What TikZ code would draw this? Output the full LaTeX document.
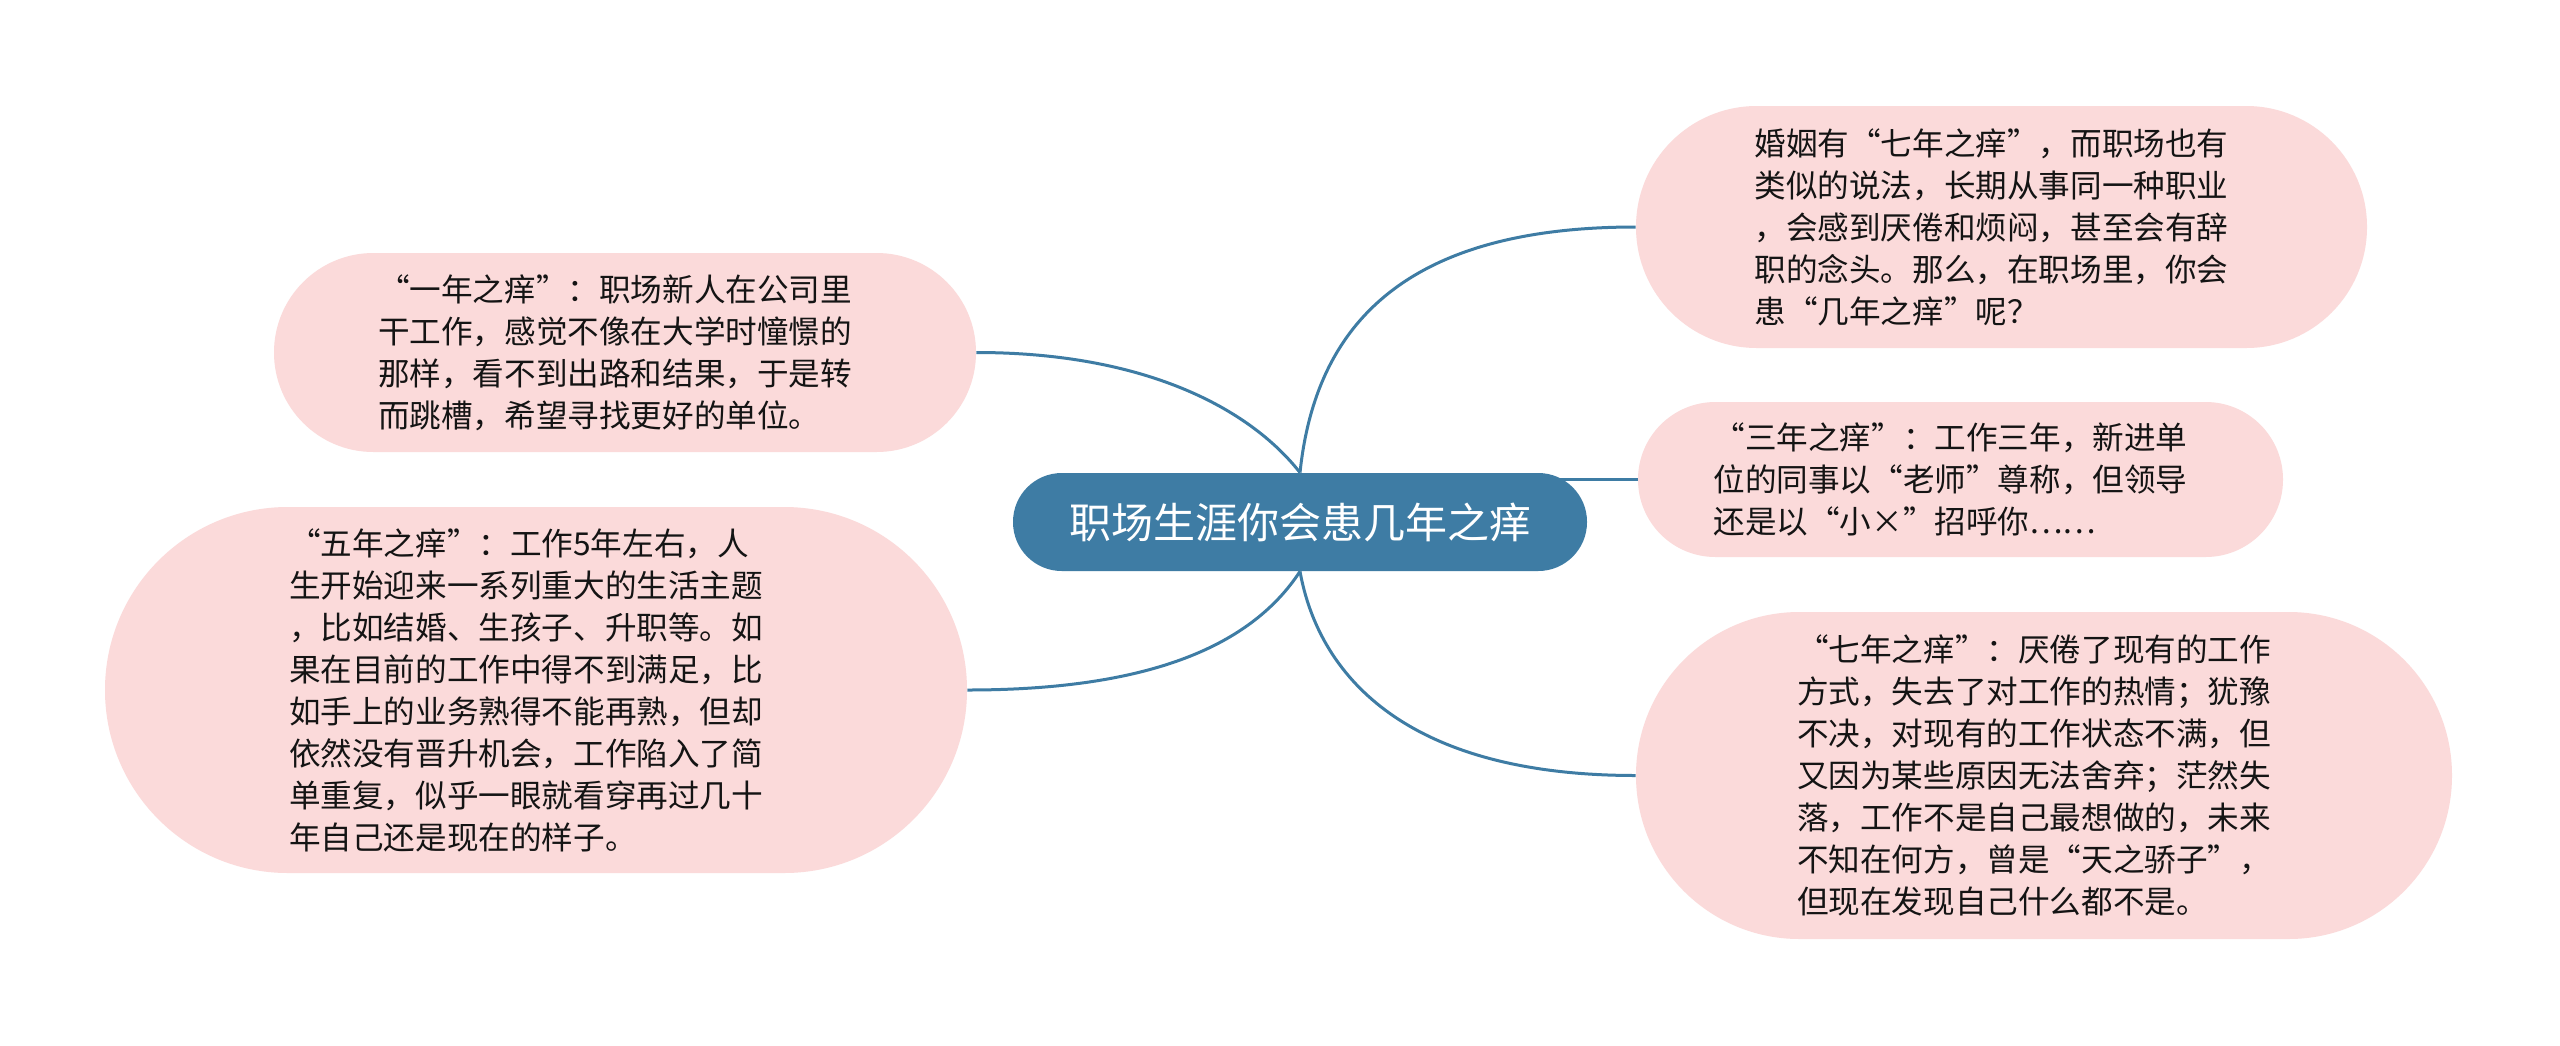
\documentclass[tikz,border=0pt]{standalone}
\usepackage{fontspec}
\setmainfont{Noto Sans CJK SC}
\usetikzlibrary{backgrounds}
\definecolor{rootblue}{HTML}{3E7CA4}
\definecolor{bubblepink}{HTML}{FBDADA}
\definecolor{txtgray}{HTML}{141414}
\begin{document}
\begin{tikzpicture}[x=0.5pt,y=-0.5pt,
  bubble/.style={rectangle, fill=bubblepink, draw=none, inner sep=0pt,
    text width=247pt, align=left, text=txtgray,
    font=\fontsize{15.8pt}{21pt}\selectfont},
  rootnode/.style={rectangle, fill=rootblue, draw=none, inner sep=0pt,
    minimum width=287pt, minimum height=49pt, rounded corners=24.4pt,
    text=white, font=\fontsize{21pt}{25pt}\selectfont},
  link/.style={draw=rootblue, line width=1.5pt}]
\useasboundingbox (0,0) rectangle (2560,1045);

\node[rootnode] (root) at (1300,522) {职场生涯你会患几年之痒};

\node[bubble, minimum width=351pt, minimum height=99.5pt, rounded corners=49.7pt] (A) at (625,352.5)
 {“一年之痒”：职场新人在公司里\\干工作，感觉不像在大学时憧憬的\\那样，看不到出路和结果，于是转\\而跳槽，希望寻找更好的单位。};

\node[bubble, minimum width=431pt, minimum height=183pt, rounded corners=91.4pt] (B) at (536,690)
 {“五年之痒”：工作5年左右，人\\生开始迎来一系列重大的生活主题\\，比如结婚、生孩子、升职等。如\\果在目前的工作中得不到满足，比\\如手上的业务熟得不能再熟，但却\\依然没有晋升机会，工作陷入了简\\单重复，似乎一眼就看穿再过几十\\年自己还是现在的样子。};

\node[bubble, minimum width=365.5pt, minimum height=121pt, rounded corners=60.4pt] (C) at (2001.5,227)
 {婚姻有“七年之痒”，而职场也有\\类似的说法，长期从事同一种职业\\，会感到厌倦和烦闷，甚至会有辞\\职的念头。那么，在职场里，你会\\患“几年之痒”呢？};

\node[bubble, minimum width=322.5pt, minimum height=77.5pt, rounded corners=38.7pt] (D) at (1960.5,479.5)
 {“三年之痒”：工作三年，新进单\\位的同事以“老师”尊称，但领导\\还是以“小×”招呼你……};

\node[bubble, minimum width=408pt, minimum height=163.5pt, rounded corners=81.7pt] (E) at (2044,775.5)
 {“七年之痒”：厌倦了现有的工作\\方式，失去了对工作的热情；犹豫\\不决，对现有的工作状态不满，但\\又因为某些原因无法舍弃；茫然失\\落，工作不是自己最想做的，未来\\不知在何方，曾是“天之骄子”，\\但现在发现自己什么都不是。};

\begin{scope}[on background layer]
\fill[white] (0,0) rectangle (2560,1045);
\draw[link] (root.north) .. controls +(-51,-65) and +(167,0) .. (A.east);
\draw[link] (root.south) .. controls +(-51,78) and +(175,0) .. (B.east);
\draw[link] (root.north) .. controls +(15,-143) and +(-236,0) .. (C.west);
\draw[link] (root.center |- D.west) -- (D.west);
\draw[link] (root.south) .. controls +(18,100) and +(-235,0) .. (E.west);
\end{scope}
\end{tikzpicture}
\end{document}
